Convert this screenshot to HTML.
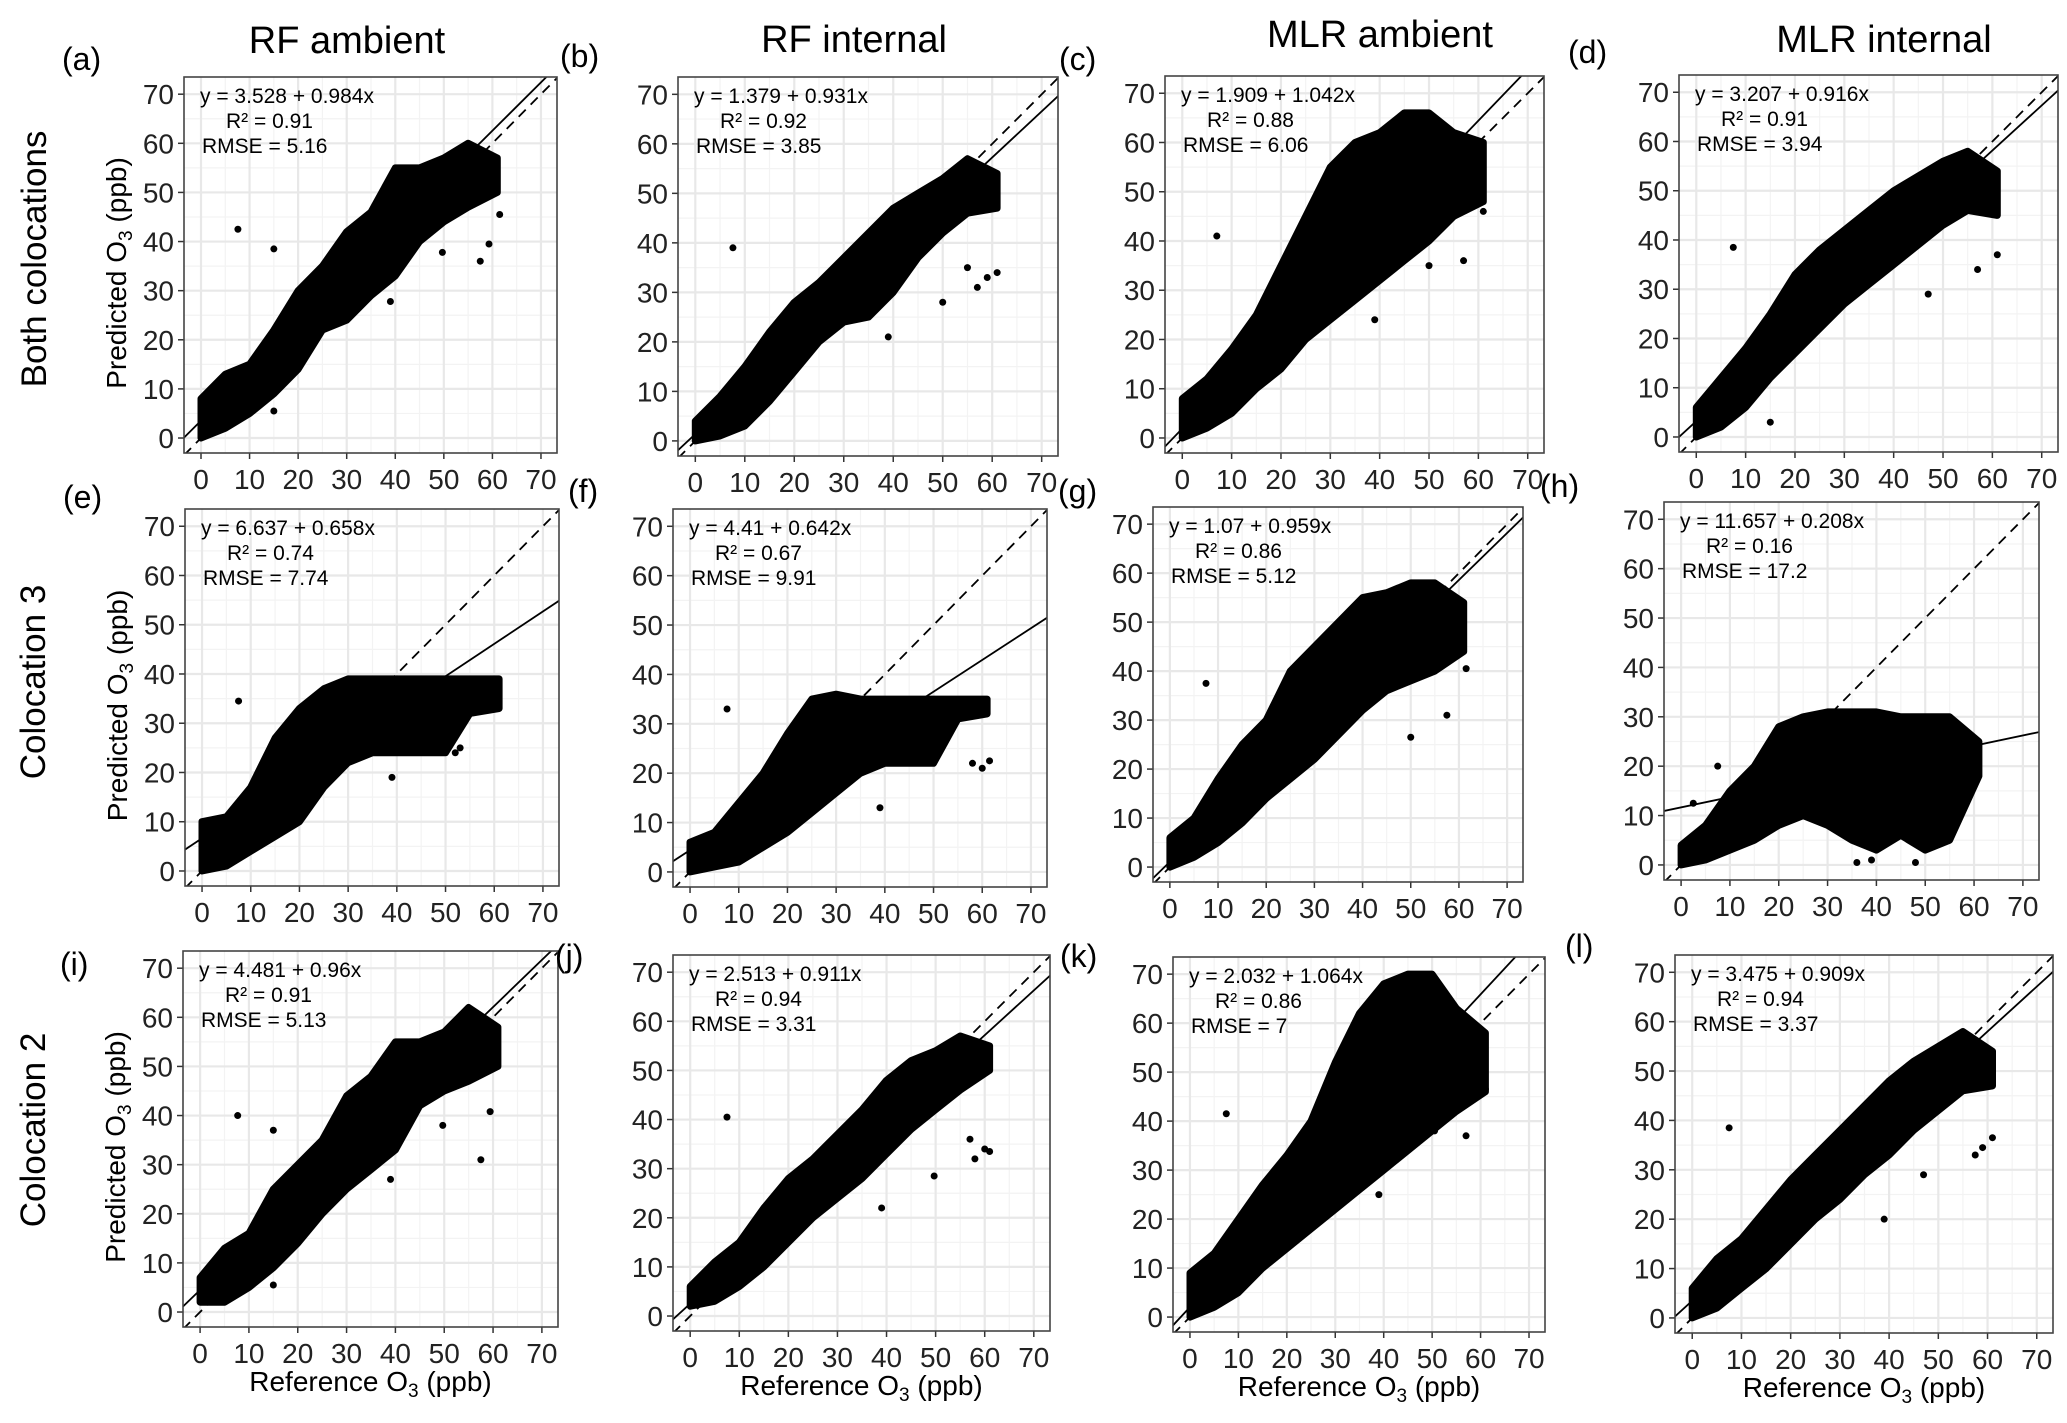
<!DOCTYPE html>
<html><head><meta charset="utf-8"><style>
html,body{margin:0;padding:0;background:#fff;}
svg{display:block;font-family:"Liberation Sans",sans-serif;}
</style></head><body>
<svg id="fig" width="2067" height="1423" viewBox="0 0 2067 1423" xmlns="http://www.w3.org/2000/svg">
<text x="347" y="53" font-size="38" text-anchor="middle">RF ambient</text>
<text x="854" y="52" font-size="38" text-anchor="middle">RF internal</text>
<text x="1380" y="47" font-size="38" text-anchor="middle">MLR ambient</text>
<text x="1884" y="52" font-size="38" text-anchor="middle">MLR internal</text>
<text transform="translate(46,259) rotate(-90)" font-size="35" text-anchor="middle">Both colocations</text>
<text transform="translate(45,682) rotate(-90)" font-size="35" text-anchor="middle">Colocation 3</text>
<text transform="translate(45,1130) rotate(-90)" font-size="35" text-anchor="middle">Colocation 2</text>
</svg>
<script>
// ---- data ----
const panelIds = ['a','b','c','d','e','f','g','h','i','j','k','l'];
const intercepts = [3.528,1.379,1.909,3.207,6.637,4.41,1.07,11.657,4.481,2.513,2.032,3.475];
const slopes = [0.984,0.931,1.042,0.916,0.658,0.642,0.959,0.208,0.96,0.911,1.064,0.909];
const eqLabels = ['y = 3.528 + 0.984x','y = 1.379 + 0.931x','y = 1.909 + 1.042x','y = 3.207 + 0.916x','y = 6.637 + 0.658x','y = 4.41 + 0.642x','y = 1.07 + 0.959x','y = 11.657 + 0.208x','y = 4.481 + 0.96x','y = 2.513 + 0.911x','y = 2.032 + 1.064x','y = 3.475 + 0.909x'];
const r2Labels = ['0.91','0.92','0.88','0.91','0.74','0.67','0.86','0.16','0.91','0.94','0.86','0.94'];
const rmseLabels = ['5.16','3.85','6.06','3.94','7.74','9.91','5.12','17.2','5.13','3.31','7','3.37'];
const tickValues = [0,10,20,30,40,50,60,70];
const cloudX = [0,5,10,15,20,25,30,35,40,45,50,55,61];
const cloudLo = [
 [0,2,5,9,14,22,24,29,33,40,44,47,50],
 [0,1,3,8,14,20,24,25,30,37,42,46,47],
 [0,2,5,10,14,20,24,28,32,36,40,45,48],
 [0,2,6,12,17,22,27,31,35,39,43,46,45],
 [0,1,4,7,10,17,22,24,24,24,24,32,33],
 [0,1,2,5,8,12,16,20,22,22,22,31,32],
 [0,2,5,9,14,18,22,27,32,36,38,40,44],
 [0,1,3,5,8,10,8,5,3,6,3,5,18],
 [2,2,5,9,14,20,25,29,33,42,45,47,50],
 [2,3,6,10,15,20,24,28,33,38,42,46,50],
 [0,2,5,10,14,18,22,26,30,34,38,42,46],
 [0,2,6,10,15,20,24,29,33,38,42,46,47]];
const cloudHi = [
 [8,13,15,22,30,35,42,46,55,55,57,60,57],
 [4,9,15,22,28,32,37,42,47,50,53,57,54],
 [8,12,18,25,35,45,55,60,62,66,66,62,60],
 [6,12,18,25,33,38,42,46,50,53,56,58,54],
 [10,11,17,27,33,37,39,39,39,39,39,39,39],
 [6,8,14,20,28,35,36,35,35,35,35,35,35],
 [6,10,18,25,30,40,45,50,55,56,58,58,54],
 [4,8,15,20,28,30,31,31,31,30,30,30,25],
 [7,13,16,25,30,35,44,48,55,55,57,62,58],
 [6,11,15,22,28,32,37,42,48,52,54,57,55],
 [9,13,20,27,33,40,52,62,68,70,70,63,58],
 [6,12,16,22,28,33,38,43,48,52,55,58,54]];
const outX = [
 [7.6,15,49.7,57.5,59.3,61.5,39,15],
 [7.6,39,55,57,59,61,50],
 [7,39,50,57,61],
 [7.5,15,47,61,57],
 [7.5,39,53,52],
 [7.6,39,58,60,61.5],
 [7.5,50,57.5,61.5],
 [7.5,2.5,36,48,39],
 [7.7,15,57.5,59.4,49.7,39,15],
 [7.5,39,57,58,60,61,49.7],
 [7.5,39,50.5,57,61],
 [7.5,39,57.5,59,61,47]];
const outY = [
 [42.5,38.5,37.8,36,39.5,45.5,27.8,5.5],
 [39,21,35,31,33,34,28],
 [41,24,35,36,46],
 [38.5,3,29,37,34],
 [34.5,19,25,24],
 [33,13,22,21,22.5],
 [37.5,26.5,31,40.5],
 [20,12.5,0.5,0.5,1],
 [40,37,31,40.8,38,27,5.5],
 [40.5,22,36,32,34,33.5,28.5],
 [41.5,25,38,37,46.5],
 [38.5,20,33,34.5,36.5,29]];
// ---- layout (pixel boxes, not data) ----
const boxes = [
 [184,77,557,453],[678,77,1058,456],[1165,76,1544,453],[1679,75,2058,452],
 [185,509,559,886],[673,509,1047,887],[1153,507,1523,882],[1664,502,2039,880],
 [183,951,558,1327],[673,955,1050,1331],[1173,957,1545,1332],[1675,955,2053,1333]];
const labelPos = [[62,70],[560,67],[1059,70],[1568,63],[63,508],[568,502],[1058,502],[1540,497],[60,975],[555,967],[1060,967],[1565,957]];
const XMIN=-3.5, XMAX=73.3, YMIN=-3.05, YMAX=73.5;
const NS='http://www.w3.org/2000/svg';
const svg=document.getElementById('fig');
function mk(tag,attrs,parent){const e=document.createElementNS(NS,tag);for(const k in attrs)e.setAttribute(k,attrs[k]);(parent||svg).appendChild(e);return e;}
const defs=mk('defs',{});
panelIds.forEach((id,p)=>{
  const [L,T,R,B]=boxes[p];
  const sx=v=>L+(v-XMIN)/(XMAX-XMIN)*(R-L);
  const sy=v=>B-(v-YMIN)/(YMAX-YMIN)*(B-T);
  const g=mk('g',{});
  
  
  const cp=mk('clipPath',{id:'clip-'+id},defs);
  mk('rect',{x:L,y:T,width:R-L,height:B-T},cp);
  const bg=mk('rect',{x:L,y:T,width:R-L,height:B-T,fill:'#fff'},g);
  
  
  for(let v=5;v<=70;v+=10){
    mk('line',{x1:sx(v),x2:sx(v),y1:T,y2:B,stroke:'#f3f3f3','stroke-width':1.2},g);
    mk('line',{y1:sy(v),y2:sy(v),x1:L,x2:R,stroke:'#f3f3f3','stroke-width':1.2},g);
  }
  tickValues.forEach(v=>{
    const gx=mk('line',{x1:sx(v),x2:sx(v),y1:T,y2:B,stroke:'#e8e8e8','stroke-width':2.2},g);
    
    
    const gy=mk('line',{y1:sy(v),y2:sy(v),x1:L,x2:R,stroke:'#e8e8e8','stroke-width':2.2},g);
    
    
    const tx=mk('text',{x:sx(v),y:B+36,'font-size':28,'text-anchor':'middle',fill:'#222'},g);
    tx.textContent=v;
    
    
    mk('line',{x1:sx(v),x2:sx(v),y1:B,y2:B+6,stroke:'#333','stroke-width':1.5},g);
    const ty=mk('text',{x:L-10,y:sy(v)+10,'font-size':28,'text-anchor':'end',fill:'#222'},g);
    ty.textContent=v;
    
    
    mk('line',{x1:L-6,x2:L,y1:sy(v),y2:sy(v),stroke:'#333','stroke-width':1.5},g);
  });
  const inner=mk('g',{'clip-path':'url(#clip-'+id+')'},g);
  let pts=[];
  for(let k=0;k<cloudX.length;k++)pts.push(sx(cloudX[k]).toFixed(1)+','+sy(cloudHi[p][k]).toFixed(1));
  for(let k=cloudX.length-1;k>=0;k--)pts.push(sx(cloudX[k]).toFixed(1)+','+sy(cloudLo[p][k]).toFixed(1));
  const cloud=mk('polygon',{points:pts.join(' '),fill:'#000',stroke:'#000','stroke-width':7,'stroke-linejoin':'round'},inner);
  
  
  outX[p].forEach((x,k)=>{
    const c=mk('circle',{cx:sx(x),cy:sy(outY[p][k]),r:3.5,fill:'#000'},inner);
    
    
  });
  const one=mk('line',{x1:sx(XMIN),y1:sy(XMIN),x2:sx(XMAX),y2:sy(XMAX),stroke:'#000','stroke-width':1.8,'stroke-dasharray':'10,7'},inner);
  
  
  const a=intercepts[p],b=slopes[p];
  const fit=mk('line',{x1:sx(XMIN),y1:sy(a+b*XMIN),x2:sx(XMAX),y2:sy(a+b*XMAX),stroke:'#000','stroke-width':1.8},inner);
  
  
  const border=mk('rect',{x:L,y:T,width:R-L,height:B-T,fill:'none',stroke:'#444','stroke-width':1.6},g);
  
  
  const t1=mk('text',{x:L+16,y:T+26,'font-size':21},g);t1.textContent=eqLabels[p];
  
  
  const t2=mk('text',{x:L+42,y:T+51,'font-size':21},g);t2.textContent='R² = '+r2Labels[p];
  
  
  const t3=mk('text',{x:L+18,y:T+76,'font-size':21},g);t3.textContent='RMSE = '+rmseLabels[p];
  
  
  const pl=mk('text',{x:labelPos[p][0],y:labelPos[p][1],'font-size':32},g);pl.textContent='('+id+')';
  
  
  if(p%4===0){
    const yt=mk('text',{transform:'translate('+(L-58)+','+((T+B)/2+8)+') rotate(-90)','font-size':28,'text-anchor':'middle'},g);
    yt.innerHTML='Predicted O<tspan font-size="19" dy="6">3</tspan><tspan dy="-6"> (ppb)</tspan>';
    
    
  }
  if(p>=8){
    const xt=mk('text',{x:(L+R)/2,y:B+64,'font-size':28,'text-anchor':'middle'},g);
    xt.innerHTML='Reference O<tspan font-size="19" dy="6">3</tspan><tspan dy="-6"> (ppb)</tspan>';
    
    
  }
});
</script>
</body></html>
